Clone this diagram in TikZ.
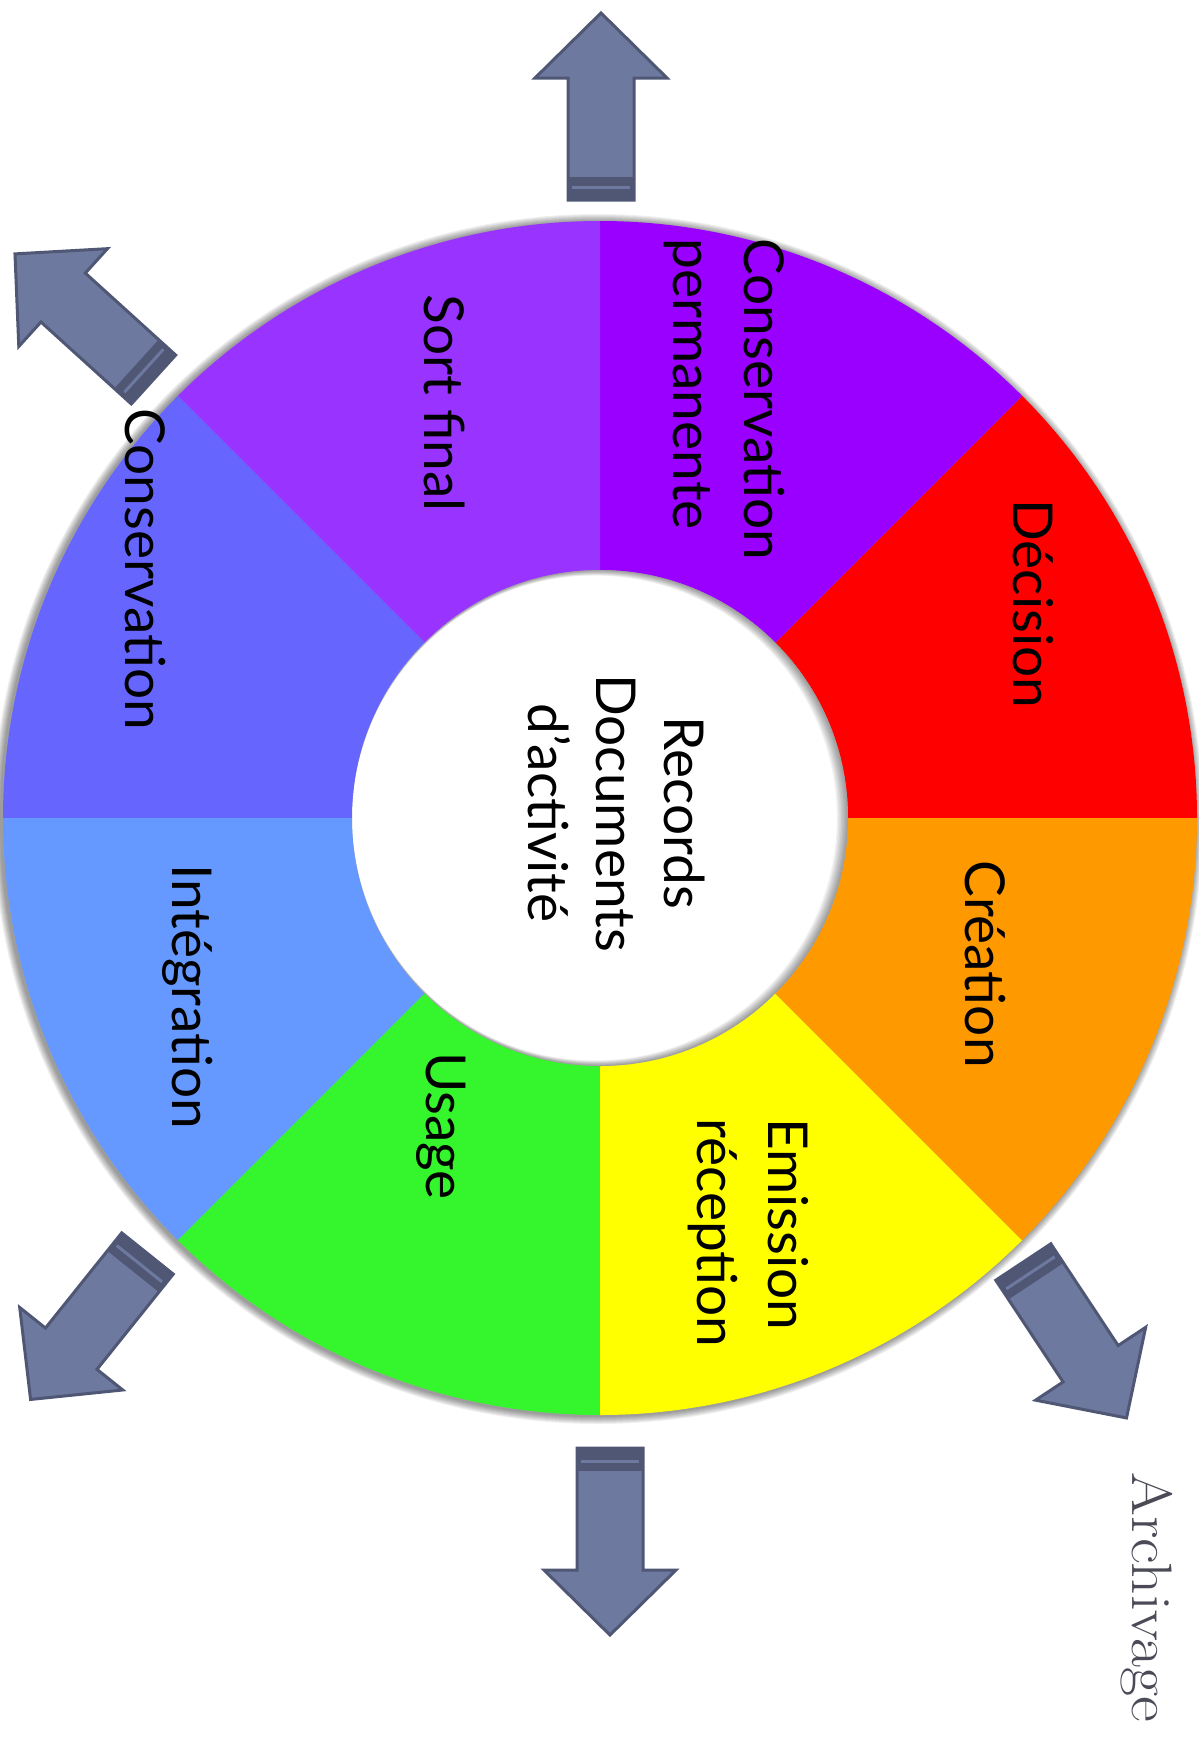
\documentclass[tikz,border=0pt]{standalone}
\usepackage{fontspec}
\newfontfamily\labfont{Lato}
\usetikzlibrary{calc}
\definecolor{cDec}{HTML}{FF0000}
\definecolor{cPerm}{HTML}{9900FF}
\definecolor{cSort}{HTML}{9933FF}
\definecolor{cCons}{HTML}{6666FF}
\definecolor{cInt}{HTML}{6699FF}
\definecolor{cUsa}{HTML}{35F52C}
\definecolor{cEmi}{HTML}{FFFF00}
\definecolor{cCre}{HTML}{FF9900}
\definecolor{arrowfill}{HTML}{6E799F}
\definecolor{arrowline}{HTML}{4F5775}
\definecolor{archgray}{HTML}{4B4B57}
\tikzset{
  seglabel/.style={font=\labfont\fontsize{27.5}{35.5}\selectfont, anchor=base west,
    rotate=-90, inner sep=0pt, align=left, text=black},
  centerlabel/.style={font=\labfont\fontsize{27.5}{34}\selectfont, anchor=base,
    rotate=-90, inner sep=0pt, align=center, text=black},
  arrowbody/.style={fill=arrowfill, draw=arrowline, line width=1.5pt, line join=miter},
  bigarr/.pic={
    \path[arrowbody] (0,-33) -- (122,-33) -- (122,-66) -- (187,0) -- (122,66)
      -- (122,33) -- (0,33) -- cycle;
    \fill[arrowline] (0,-33) rectangle (23,33);
    \draw[arrowfill, line width=1.5pt] (13,-29) -- (13,29);
  }
}
\begin{document}
\begin{tikzpicture}[x=0.5pt,y=-0.5pt]
\useasboundingbox (0,0) rectangle (1199,1746);
\coordinate (C) at (600,818);
% outer soft shadow
\foreach \i in {1,...,8}{
  \fill[black, opacity=0.06] (598,819) circle ({597+\i});
}
% sectors
\foreach \col/\a in {cDec/0,cPerm/45,cSort/90,cCons/135,cInt/180,cUsa/225,cEmi/270,cCre/315}{
  \fill[\col] (C) -- +({-\a}:597) arc[start angle={-\a}, end angle={-\a-45}, radius=597] -- cycle;
}
% inner disk with inner shadow
\fill[white] (C) circle (248);
\begin{scope}
  \clip (C) circle (248);
  \foreach \i in {1,...,8}{
    \fill[black, opacity=0.055, even odd rule] (C) circle (252)
      ($(C)+({-0.7*\i},0)$) circle ({248-0.7*\i});
  }
\end{scope}
% labels (anchor = baseline of the last line)
\node[seglabel] (perm) at (673,238) {Conservation\\permanente};
\node[seglabel] (dec) at (1013,499) {Décision};
\node[seglabel] (cre) at (965,860) {Création};
\node[seglabel] (emi) at (697,1118) {Emission\\réception};
\node[seglabel] (usa) at (426,1052) {Usage};
\node[seglabel] (int) at (172,864) {Intégration};
\node[seglabel] (cons) at (125,408) {Conservation};
\node[seglabel] (sort) at (424,294) {Sort final};
\node[centerlabel] (center) at (528,813) {Records\\Documents\\d’activité};
% arrows
\coordinate (aT) at (601,200);
\coordinate (aTL) at (153.5,379.5);
\coordinate (aBL) at (147.5,1253.5);
\coordinate (aB) at (610,1448);
\coordinate (aBR) at (1023.3,1262);
\pic[rotate=90] at (aT) {bigarr};
\pic[rotate=137.8] at (aTL) {bigarr};
\pic[rotate=231.3] at (aBL) {bigarr};
\pic[rotate=270] at (aB) {bigarr};
\pic[rotate=-56.5] at (aBR) {bigarr};
% Archivage
\node[anchor=base west, rotate=-90, inner sep=0pt, text=archgray,
  font=\fontsize{28.5}{34}\selectfont] (arch) at (1132,1472) {\scalebox{1.11}[1]{Archivage}};
\end{tikzpicture}
\end{document}
